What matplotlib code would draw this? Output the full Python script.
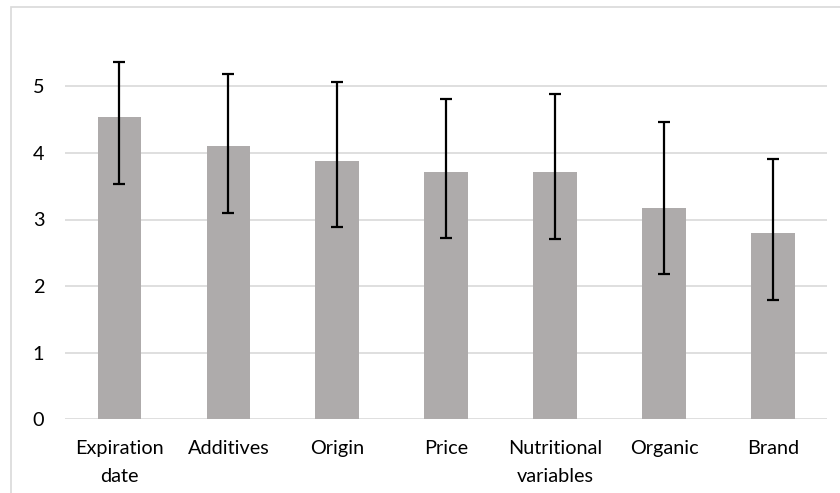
import matplotlib
matplotlib.use("Agg")
from matplotlib import pyplot as plt
from matplotlib.patches import Rectangle
import numpy as np

# Mean ratings with error bars
categories = ["Expiration\ndate", "Additives", "Origin", "Price",
              "Nutritional\nvariables", "Organic", "Brand"]
means = [4.54, 4.10, 3.88, 3.72, 3.71, 3.18, 2.79]
err_low = [1.0, 1.0, 1.0, 1.0, 1.0, 1.0, 1.0]
err_high = [0.83, 1.09, 1.19, 1.09, 1.17, 1.29, 1.12]
yticks = [0, 1, 2, 3, 4, 5]

plt.rcParams['font.family'] = ['Lato', 'DejaVu Sans']

fig = plt.figure(figsize=(8.4, 4.93), dpi=100)

# outer chart frame (Excel-like), partly cut off at right/bottom
fig.patches.append(Rectangle((11/840, -0.1), 1.2, 1 - 7/493 + 0.1,
                             transform=fig.transFigure, fill=False,
                             edgecolor='#D9D9D9', linewidth=1.2))

ax = fig.add_axes([65/840, 1 - 419.3/493, (827.3 - 65)/840, (419.3 - 19.7)/493])

x = np.arange(len(categories))
ax.bar(x, means, width=0.4, color='#AEABAB', zorder=2)
ax.errorbar(x, means, yerr=[err_low, err_high], fmt='none', ecolor='black',
            elinewidth=1.6, capsize=4.3, capthick=1.6, zorder=3)

ax.set_xlim(-0.5, len(categories) - 0.5)
ax.set_ylim(0, 6)
ax.set_yticks(yticks)
ax.set_xticks(x)
ax.set_xticklabels(categories, fontsize=14.3, color='#000000', linespacing=1.8)
ax.set_yticklabels([str(t) for t in yticks], fontsize=14.3)
ax.tick_params(axis='both', length=0)
ax.tick_params(axis='y', pad=15)
ax.tick_params(axis='x', pad=15)

for s in ax.spines.values():
    s.set_visible(False)
for t in yticks:
    ax.axhline(t, color='#D9D9D9', linewidth=1.2, zorder=1)

fig.savefig("out.png", dpi=100)
